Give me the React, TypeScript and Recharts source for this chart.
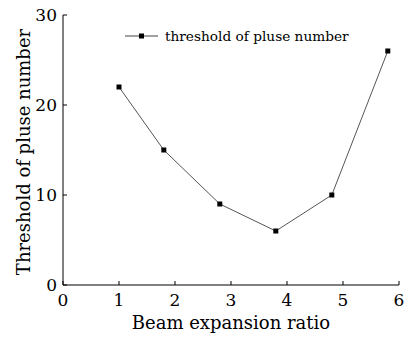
import { LineChart, Line, XAxis, YAxis, Legend, Label } from "recharts";

// beam expansion ratio vs. threshold of pulse number
const ratios = [1, 1.8, 2.8, 3.8, 4.8, 5.8];
const thresholds = [22, 15, 9, 6, 10, 26];
const xTicks = [0, 1, 2, 3, 4, 5, 6];
const yTicks = [0, 10, 20, 30];

const data = ratios.map((r, i) => ({ ratio: r, threshold: thresholds[i] }));

const FONT = "'DejaVu Serif', serif";

const SquareDot = (props: any) => {
  const { cx, cy } = props;
  if (cx == null || cy == null) return null;
  return <rect x={cx - 2.5} y={cy - 2.5} width={5} height={5} fill="#000" />;
};

const LegendContent = () => (
  <div style={{ display: "flex", alignItems: "center", fontFamily: FONT, fontSize: 13.7, lineHeight: "16px", color: "#000" }}>
    <svg width={33} height={10}>
      <line x1={0} y1={5} x2={33} y2={5} stroke="#444" strokeWidth={1} />
      <rect x={14} y={2.5} width={5} height={5} fill="#000" />
    </svg>
    <span style={{ marginLeft: 7, whiteSpace: "nowrap" }}>threshold of pluse number</span>
  </div>
);

const YTitle = ({ viewBox }: any) => {
  const cy = viewBox.y + viewBox.height / 2 + 2;
  return (
    <text x={30} y={cy} transform={`rotate(-90 30 ${cy})`} textAnchor="middle" fontFamily={FONT} fontSize={18} fill="#000">
      Threshold of pluse number
    </text>
  );
};

const XTitle = ({ viewBox }: any) => (
  <text x={viewBox.x + viewBox.width / 2} y={329} textAnchor="middle" fontFamily={FONT} fontSize={18} fill="#000">
    Beam expansion ratio
  </text>
);

export default function App() {
  return (
    <div style={{ position: "absolute", left: 0, top: 0, background: "#fff" }}>
      <LineChart width={417} height={339} data={data} margin={{ top: 15, right: 18, left: 0, bottom: 0 }}>
        <XAxis
          type="number"
          dataKey="ratio"
          domain={[0, 6]}
          ticks={xTicks}
          height={54}
          tickSize={-4}
          tickMargin={13}
          axisLine={{ stroke: "#000" }}
          tickLine={{ stroke: "#000" }}
          tick={{ fill: "#000", fontSize: 17, fontFamily: FONT }}
        >
          <Label content={<XTitle />} />
        </XAxis>
        <YAxis
          type="number"
          domain={[0, 30]}
          ticks={yTicks}
          width={63}
          tickSize={-4}
          tickMargin={10}
          axisLine={{ stroke: "#000" }}
          tickLine={{ stroke: "#000" }}
          tick={{ fill: "#000", fontSize: 17, fontFamily: FONT }}
        >
          <Label content={<YTitle />} />
        </YAxis>
        <Legend
          layout="vertical"
          align="center"
          verticalAlign="middle"
          wrapperStyle={{ top: 28, left: 125, width: "auto" }}
          content={<LegendContent />}
        />
        <Line
          type="linear"
          dataKey="threshold"
          stroke="#555"
          strokeWidth={1}
          dot={<SquareDot />}
          activeDot={false}
          isAnimationActive={false}
        />
      </LineChart>
    </div>
  );
}
